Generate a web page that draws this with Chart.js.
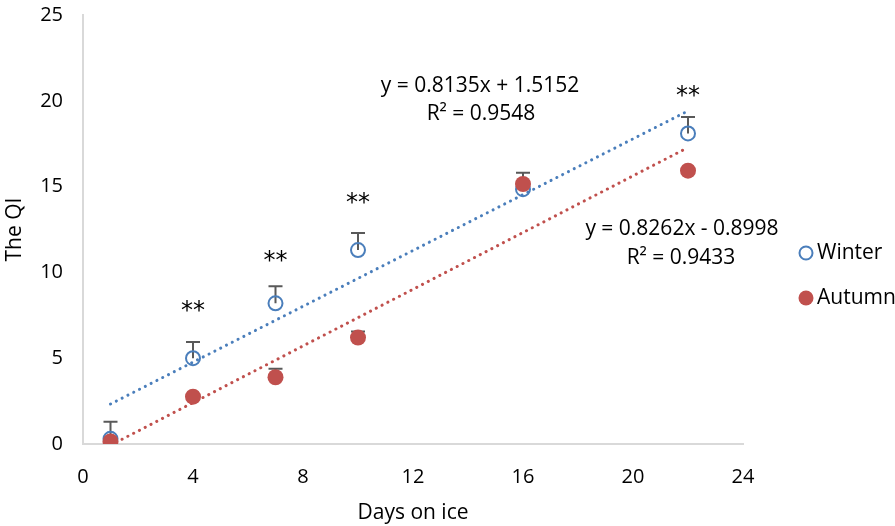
<!DOCTYPE html>
<html>
<head>
<meta charset="utf-8">
<script src="https://cdn.jsdelivr.net/npm/chart.js@4/dist/chart.umd.min.js"></script>
<style>
  body { margin: 0; background: #fff; }
</style>
</head>
<body>
<canvas id="qiChart" width="895" height="526"></canvas>
<script>
// dados
const days = [1, 4, 7, 10, 16, 22];
const winterQI = [0.3, 5.0, 8.2, 11.3, 14.85, 18.1];
const winterErr = [1.0, 0.95, 1.0, 1.0, 0.3, 0.95];
const autumnQI = [0.15, 2.76, 3.89, 6.2, 15.15, 15.93];
const autumnErr = [0, 0.15, 0.5, 0.35, 0.65, 0];
const winterTrend = [[1, 2.33], [22, 19.41]];
const autumnTrend = [[1, -0.07], [22, 17.28]];
const xTicks = [0, 4, 8, 12, 16, 20, 24];
const yTicks = [0, 5, 10, 15, 20, 25];
const starDays = [4, 7, 10, 22];
const starLevels = [8.0, 10.9, 14.3, 20.5];
const winterEq = ['y = 0.8135x + 1.5152', 'R² = 0.9548'];
const autumnEq = ['y = 0.8262x - 0.8998', 'R² = 0.9433'];

const FONT = '"Open Sans", Lato, sans-serif';
const BLUE = '#4a7ebb';
const RED = '#c0504d';

const toPts = (xs, ys) => xs.map((x, i) => ({ x: x, y: ys[i] }));
const pairPts = arr => arr.map(p => ({ x: p[0], y: p[1] }));

// barras de erro (só para cima, como no original)
const errorBars = {
    id: 'errorBars',
    beforeDatasetsDraw(chart) {
        const ctx = chart.ctx;
        const xs = chart.scales.x, ys = chart.scales.y;
        ctx.save();
        ctx.strokeStyle = '#595959';
        ctx.lineWidth = 2;
        const draw = (vals, errs) => {
            days.forEach((d, i) => {
                if (!errs[i]) return;
                const px = xs.getPixelForValue(d);
                const y0 = ys.getPixelForValue(vals[i]);
                const y1 = ys.getPixelForValue(vals[i] + errs[i]);
                ctx.beginPath();
                ctx.moveTo(px, y0);
                ctx.lineTo(px, y1);
                ctx.moveTo(px - 7, y1);
                ctx.lineTo(px + 7, y1);
                ctx.stroke();
            });
        };
        draw(winterQI, winterErr);
        draw(autumnQI, autumnErr);
        ctx.restore();
    }
};

// asteriscos, equações e legenda
const annotations = {
    id: 'annotations',
    afterDraw(chart) {
        const ctx = chart.ctx;
        const xs = chart.scales.x, ys = chart.scales.y;
        ctx.save();
        ctx.fillStyle = '#000';
        ctx.textAlign = 'center';
        ctx.textBaseline = 'middle';
        ctx.font = '24px "DejaVu Sans", sans-serif';
        starDays.forEach((d, i) => {
            ctx.fillText('**', xs.getPixelForValue(d), ys.getPixelForValue(starLevels[i]) + 5);
        });
        ctx.font = '21px ' + FONT;
        ctx.fillText(winterEq[0], 480, 86);
        ctx.fillText(winterEq[1], 481, 114);
        ctx.fillText(autumnEq[0], 682, 229);
        ctx.fillText(autumnEq[1], 681, 258);

        // legenda
        ctx.textAlign = 'left';
        ctx.beginPath();
        ctx.arc(806, 253, 6.5, 0, Math.PI * 2);
        ctx.strokeStyle = BLUE;
        ctx.lineWidth = 2;
        ctx.stroke();
        ctx.beginPath();
        ctx.arc(806, 298, 7.5, 0, Math.PI * 2);
        ctx.fillStyle = RED;
        ctx.fill();
        ctx.fillStyle = '#000';
        ctx.font = '21px ' + FONT;
        ctx.fillText('Winter', 817, 253);
        ctx.fillText('Autumn', 817, 298);
        ctx.restore();
    }
};

const ctx = document.getElementById('qiChart').getContext('2d');
const qiChart = new Chart(ctx, {
    type: 'scatter',
    data: {
        datasets: [
            {
                label: 'Autumn',
                data: toPts(days, autumnQI),
                pointRadius: 8,
                pointBackgroundColor: RED,
                pointBorderColor: RED,
                pointBorderWidth: 0
            },
            {
                label: 'Winter',
                data: toPts(days, winterQI),
                pointRadius: 7,
                pointBackgroundColor: 'rgba(0,0,0,0)',
                pointBorderColor: BLUE,
                pointBorderWidth: 2
            },
            {
                label: 'Autumn trend',
                data: pairPts(autumnTrend),
                showLine: true,
                pointRadius: 0,
                borderColor: RED,
                borderWidth: 3,
                borderDash: [0.1, 6.4],
                borderCapStyle: 'round'
            },
            {
                label: 'Winter trend',
                data: pairPts(winterTrend),
                showLine: true,
                pointRadius: 0,
                borderColor: BLUE,
                borderWidth: 3,
                borderDash: [0.1, 6.4],
                borderCapStyle: 'round'
            }
        ]
    },
    options: {
        responsive: false,
        animation: false,
        layout: { padding: { top: 15, right: 152, left: 0, bottom: 0 } },
        plugins: {
            legend: { display: false },
            tooltip: { enabled: false }
        },
        scales: {
            x: {
                type: 'linear',
                min: 0,
                max: 24,
                afterBuildTicks: s => { s.ticks = xTicks.map(v => ({ value: v })); },
                afterFit: s => { s.height = 82; s.paddingLeft = 0; s.paddingRight = 0; },
                grid: { display: false },
                border: { display: true, color: '#d9d9d9', width: 2 },
                ticks: { color: '#000', padding: 13, font: { family: FONT, size: 20 } },
                title: {
                    display: true,
                    text: 'Days on ice',
                    color: '#000',
                    padding: { top: 0, bottom: 0 },
                    font: { family: FONT, size: 21 }
                }
            },
            y: {
                min: 0,
                max: 25,
                afterBuildTicks: s => { s.ticks = yTicks.map(v => ({ value: v })); },
                afterFit: s => { s.width = 83; s.paddingTop = 0; s.paddingBottom = 0; },
                grid: { display: false },
                border: { display: true, color: '#d9d9d9', width: 2 },
                ticks: { color: '#000', padding: 12, font: { family: FONT, size: 20 } },
                title: {
                    display: true,
                    text: 'The QI',
                    color: '#000',
                    padding: { top: 2, bottom: 0 },
                    font: { family: FONT, size: 21 }
                }
            }
        }
    },
    plugins: [errorBars, annotations]
});
</script>
</body>
</html>
